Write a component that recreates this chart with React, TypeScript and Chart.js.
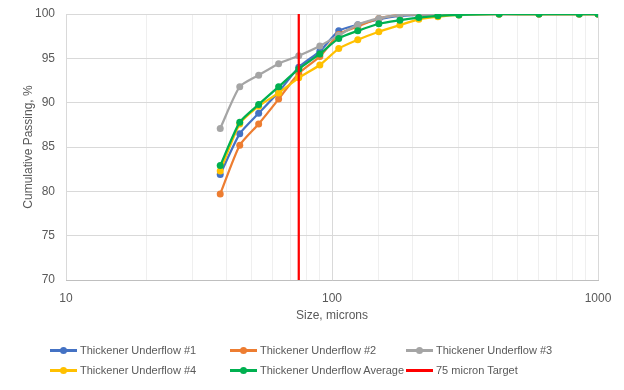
import React, { useEffect, useRef } from "react";
import { Chart, registerables } from "chart.js";

Chart.register(...registerables);

const sizes = [38, 45, 53, 63, 75, 90, 106, 125, 150, 180, 212, 250, 300, 425, 600, 850, 1000];
const underflow1 = [81.9, 86.5, 88.8, 91.2, 94.0, 95.8, 98.1, 98.8, 99.4, 99.8, 99.9, 100, 100, 100, 100, 100, 100];
const underflow2 = [79.7, 85.2, 87.6, 90.4, 93.3, 95.2, 97.7, 98.6, 99.5, 99.9, 99.95, 100, 100, 100, 100, 100, 100];
const underflow3 = [87.1, 91.8, 93.1, 94.4, 95.3, 96.4, 97.6, 98.8, 99.5, 99.9, 99.95, 100, 100, 100, 100, 100, 100];
const underflow4 = [82.3, 87.6, 89.6, 91.1, 92.8, 94.25, 96.1, 97.1, 98.0, 98.75, 99.4, 99.7, 99.9, 100, 100, 100, 100];
const underflowAvg = [82.9, 87.8, 89.8, 91.8, 93.8, 95.5, 97.25, 98.1, 98.9, 99.3, 99.6, 99.8, 99.9, 100, 100, 100, 100];
const targetX = [75, 75];
const targetY = [70, 100];

const seriesNames = [
  "Thickener Underflow #1",
  "Thickener Underflow #2",
  "Thickener Underflow #3",
  "Thickener Underflow #4",
  "Thickener Underflow Average",
  "75 micron Target",
];
const colors = ["#4472c4", "#ed7d31", "#a5a5a5", "#ffc000", "#00b050", "#ff0000"];
const xMajorLabels = [10, 100, 1000];

const FONT = "'Liberation Sans', Arial, sans-serif";

export default function App() {
  const ref = useRef<HTMLCanvasElement | null>(null);

  useEffect(() => {
    document.body.style.margin = "0";
    const ctx = ref.current!.getContext("2d")!;
    const values = [underflow1, underflow2, underflow3, underflow4, underflowAvg];
    const datasets: any[] = values.map((vals, i) => ({
      label: seriesNames[i],
      data: sizes.map((s, j) => ({ x: s, y: vals[j] })),
      borderColor: colors[i],
      backgroundColor: colors[i],
      borderWidth: 2.25,
      pointRadius: 3.5,
      pointHoverRadius: 3.5,
      pointBorderWidth: 0,
      showLine: true,
      tension: 0.2,
      order: 6 - i,
    }));
    datasets.push({
      label: seriesNames[5],
      data: targetX.map((x, j) => ({ x, y: targetY[j] })),
      borderColor: colors[5],
      backgroundColor: colors[5],
      borderWidth: 2.25,
      pointRadius: 0,
      showLine: true,
      order: 0,
    });

    const chart = new Chart(ctx, {
      type: "scatter",
      data: { datasets },
      options: {
        animation: false,
        responsive: false,
        layout: { padding: { left: 21, right: 26, top: 14, bottom: 67 } },
        plugins: { legend: { display: false }, tooltip: { enabled: false } },
        scales: {
          x: {
            type: "logarithmic",
            min: 10,
            max: 1000,
            afterFit: (s: any) => {
              s.height = 43;
              s.paddingTop = 0;
              s.paddingBottom = 0;
              s.paddingLeft = 0;
              s.paddingRight = 0;
            },
            border: { color: "#bfbfbf", width: 1 },
            grid: {
              drawTicks: false,
              color: (c: any) => {
                const v = c.tick && c.tick.value;
                return xMajorLabels.includes(v) ? "#d9d9d9" : "#efefef";
              },
              lineWidth: 1,
            },
            ticks: {
              autoSkip: false,
              maxRotation: 0,
              padding: 11,
              color: "#595959",
              font: { family: FONT, size: 12 },
              callback: (v: any) => (xMajorLabels.includes(Number(v)) ? String(v) : ""),
            },
            title: {
              display: true,
              text: "Size, microns",
              color: "#595959",
              font: { family: FONT, size: 12 },
              padding: { top: 4, bottom: 0 },
            },
          },
          y: {
            min: 70,
            max: 100,
            afterFit: (s: any) => {
              s.width = 45;
              s.paddingTop = 0;
              s.paddingBottom = 0;
            },
            border: { display: false },
            grid: { color: "#d9d9d9", drawTicks: false, lineWidth: 1 },
            ticks: {
              stepSize: 5,
              padding: 11,
              color: "#595959",
              font: { family: FONT, size: 12 },
            },
            title: {
              display: true,
              text: "Cumulative Passing, %",
              color: "#595959",
              font: { family: FONT, size: 12 },
              padding: { top: 0, bottom: 4 },
            },
          },
        },
      },
    });
    return () => chart.destroy();
  }, []);

  const legendPos = [
    { left: 50, top: 343 },
    { left: 230, top: 343 },
    { left: 406, top: 343 },
    { left: 50, top: 363 },
    { left: 230, top: 363 },
    { left: 406, top: 363 },
  ];

  return (
    <div style={{ position: "absolute", left: 0, top: 0, width: 624, height: 390, background: "#fff" }}>
      <canvas ref={ref} width={624} height={390} style={{ display: "block" }} />
      {seriesNames.map((name, i) => (
        <div
          key={name}
          style={{
            position: "absolute",
            left: legendPos[i].left,
            top: legendPos[i].top,
            height: 14,
            display: "flex",
            alignItems: "center",
            fontFamily: FONT,
            fontSize: 11,
            color: "#595959",
            whiteSpace: "nowrap",
          }}
        >
          <span style={{ position: "relative", width: 27, height: 14, marginRight: 3, display: "inline-block" }}>
            <span
              style={{
                position: "absolute",
                left: 0,
                top: 6,
                width: 27,
                height: 2.5,
                background: colors[i],
              }}
            />
            {i < 5 && (
              <span
                style={{
                  position: "absolute",
                  left: 10,
                  top: 3.5,
                  width: 7,
                  height: 7,
                  borderRadius: "50%",
                  background: colors[i],
                }}
              />
            )}
          </span>
          {name}
        </div>
      ))}
    </div>
  );
}
